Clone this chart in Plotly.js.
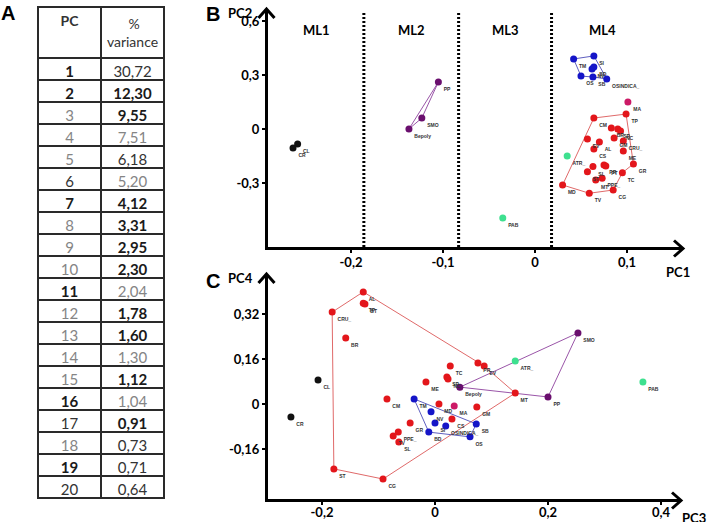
<!DOCTYPE html>
<html><head><meta charset="utf-8">
<script src="https://cdn.plot.ly/plotly-3.0.1.min.js"></script>
<style>body{margin:0;background:#fff}#chart{width:708px;height:522px}</style>
</head><body><div id="chart"></div>
<script>
// ---------- Panel A: % variance table ----------
const pcNumbers = [1,2,3,4,5,6,7,8,9,10,11,12,13,14,15,16,17,18,19,20];
const pcVariance = [30.72,12.30,9.55,7.51,6.18,5.20,4.12,3.31,2.95,2.30,2.04,1.78,1.60,1.30,1.12,1.04,0.91,0.73,0.71,0.64];
const pcStyle  = ['b','b','l','l','l','m','b','l','l','l','b','l','l','l','l','b','m','l','b','m'];
const varStyle = ['m','b','b','l','m','l','b','b','b','b','l','b','b','l','b','l','b','m','m','m'];
const tableHeader = ['PC', '%', 'variance'];

// ---------- Panel B: PC1 vs PC2 ----------
const bBlackNames = ['CL','CR'];
const bBlackPC1 = [-0.258,-0.263];
const bBlackPC2 = [-0.083,-0.106];
const bPurpleNames = ['PP','SMO','Bepoly'];
const bPurplePC1 = [-0.105,-0.123,-0.137];
const bPurplePC2 = [0.261,0.061,0.000];
const bGreenNames = ['PAB','ATR_'];
const bGreenPC1 = [-0.035,0.035];
const bGreenPC2 = [-0.494,-0.150];
const bBlueNames = ['TM','SI','NV','BD','OS','SB','OSINDICA_'];
const bBluePC1 = [0.042,0.064,0.062,0.064,0.050,0.063,0.078];
const bBluePC2 = [0.389,0.406,0.333,0.344,0.294,0.289,0.278];
const bMagentaNames = ['MA'];
const bMagentaPC1 = [0.101];
const bMagentaPC2 = [0.150];
const bRedNames = ['TP','CM','BR','SP','NC','GM','CRU_','EV','AL','CS','ME','GR','SL','PR','PT','ST','TC','MT','PPE_','MD','TV','CG'];
const bRedPC1 = [0.099,0.064,0.083,0.090,0.093,0.086,0.096,0.057,0.070,0.064,0.096,0.107,0.063,0.075,0.077,0.057,0.095,0.066,0.073,0.030,0.059,0.085];
const bRedPC2 = [0.083,0.061,0.006,0.000,-0.011,-0.050,-0.067,-0.056,-0.072,-0.111,-0.122,-0.194,-0.209,-0.200,-0.206,-0.237,-0.243,-0.283,-0.274,-0.311,-0.357,-0.339];
const bRedHull = ['CM','TP','GR','TC','CG','TV','MD','CM'];
const bBlueHull = ['TM','SI','OSINDICA_','SB','OS','TM'];
const bPurpleHull = ['PP','SMO','Bepoly','PP'];
const mlBounds = [-0.186,-0.083,0.018];
const mlNames = ['ML1','ML2','ML3','ML4'];
const mlCenters = [-0.237,-0.134,-0.032,0.073];
const bXTicks = [-0.2,-0.1,0,0.1];
const bXTickText = ['-0,2','-0,1','0','0,1'];
const bYTicks = [0.6,0.3,0,-0.3];
const bYTickText = ['0,6','0,3','0','-0,3'];

// ---------- Panel C: PC3 vs PC4 ----------
const cBlackNames = ['CL','CR'];
const cBlackPC3 = [-0.207,-0.255];
const cBlackPC4 = [0.085,-0.046];
const cPurpleNames = ['Bepoly','SMO','PP'];
const cPurplePC3 = [0.044,0.253,0.200];
const cPurplePC4 = [0.060,0.253,0.025];
const cGreenNames = ['ATR_','PAB'];
const cGreenPC3 = [0.142,0.368];
const cGreenPC4 = [0.153,0.078];
const cBlueNames = ['TM','NV','SI','OSINDICA_','BD','SB','OS'];
const cBluePC3 = [-0.037,-0.007,0.000,0.019,-0.011,0.073,0.062];
const cBluePC4 = [0.018,-0.028,-0.068,-0.078,-0.100,-0.071,-0.117];
const cMagentaNames = ['MA'];
const cMagentaPC3 = [0.034];
const cMagentaPC4 = [-0.007];
const cRedNames = ['AL','TP','BT','CRU_','BR','TC','SP','NC','ME','CM','MD','CS','GR','PPE_','TV','SL','ST','CG','PR','EV','MT','GM'];
const cRedPC3 = [-0.127,-0.127,-0.124,-0.182,-0.158,0.027,0.021,0.023,-0.016,-0.085,0.007,0.030,-0.044,-0.065,-0.074,-0.064,-0.179,-0.092,0.076,0.087,0.142,0.074];
const cRedPC4 = [0.399,0.359,0.356,0.327,0.235,0.135,0.096,0.089,0.078,0.018,0.000,-0.053,-0.068,-0.100,-0.114,-0.135,-0.231,-0.267,0.146,0.135,0.039,-0.011];
const cRedHull = ['AL','EV','MT','CG','ST','CRU_','AL'];
const cBlueHull = ['TM','SB','OS','BD','TM'];
const cPurpleHull = ['Bepoly','SMO','PP','Bepoly'];
const cXTicks = [-0.2,0,0.2,0.4];
const cXTickText = ['-0,2','0','0,2','0,4'];
const cYTicks = [0.32,0.16,0,-0.16];
const cYTickText = ['0,32','0,16','0','-0,16'];

// ---------- drawing ----------
const W = 708, H = 522;
const px = v => v / W, py = v => 1 - v / H;
const FONT = 'Lato, "Liberation Sans", sans-serif';
const COL = {red:'#e3161b', redLine:'#e06a6a', blue:'#1515c8', blueLine:'#5f5fc0',
  purple:'#6a0f6e', purpleLine:'#9a55a8', magenta:'#cc1a66', green:'#3ee08f', black:'#111111'};

const styleColor = {b:'#1a1a1a', m:'#333333', l:'#858585'};
const styleWeight = {b:'bold', m:'normal', l:'normal'};
const fmt = v => v.toFixed(2).replace('.', ',');

const traces = [];
traces.push({
  type:'table',
  domain:{x:[px(38), px(164)], y:[0, py(7)]},
  columnwidth:[63,63],
  header:{values:[tableHeader[0], '&nbsp;&nbsp;&nbsp;&nbsp;&nbsp;&nbsp;' + tableHeader[1] + '<br>' + tableHeader[2]],
    height:45, align:'center',
    line:{color:'#2a2a2a', width:1.6}, fill:{color:'#ffffff'},
    font:{family:FONT, size:14, color:'#333', weight:['bold','normal']}},
  cells:{values:[pcNumbers.map(String), pcVariance.map(fmt)],
    height:22, align:'center',
    line:{color:'#2a2a2a', width:1.6}, fill:{color:'#ffffff'},
    font:{family:FONT, size:15,
      color:[pcStyle.map(s=>styleColor[s]), varStyle.map(s=>styleColor[s])],
      weight:[pcStyle.map(s=>styleWeight[s]), varStyle.map(s=>styleWeight[s])]}}
});

function hull(names, xs, ys, order, color, xa, ya) {
  const idx = order.map(n => names.indexOf(n));
  return {type:'scatter', mode:'lines', x:idx.map(i=>xs[i]), y:idx.map(i=>ys[i]),
    line:{color:color, width:1}, xaxis:xa, yaxis:ya, hoverinfo:'skip', showlegend:false};
}
function pts(names, xs, ys, color, xa, ya) {
  return {type:'scatter', mode:'markers+text', x:xs, y:ys, text:names,
    textposition:'bottom right', textfont:{family:'"Liberation Sans", sans-serif', size:5, color:'#333', weight:'bold'},
    marker:{color:color, size:7}, xaxis:xa, yaxis:ya, showlegend:false, cliponaxis:false};
}

// Panel B
traces.push(hull(bRedNames,bRedPC1,bRedPC2,bRedHull,COL.redLine,'x','y'));
traces.push(hull(bBlueNames,bBluePC1,bBluePC2,bBlueHull,COL.blueLine,'x','y'));
traces.push(hull(bPurpleNames,bPurplePC1,bPurplePC2,bPurpleHull,COL.purpleLine,'x','y'));
traces.push(pts(bBlackNames,bBlackPC1,bBlackPC2,COL.black,'x','y'));
traces.push(pts(bPurpleNames,bPurplePC1,bPurplePC2,COL.purple,'x','y'));
traces.push(pts(bGreenNames,bGreenPC1,bGreenPC2,COL.green,'x','y'));
traces.push(pts(bBlueNames,bBluePC1,bBluePC2,COL.blue,'x','y'));
traces.push(pts(bMagentaNames,bMagentaPC1,bMagentaPC2,COL.magenta,'x','y'));
traces.push(pts(bRedNames,bRedPC1,bRedPC2,COL.red,'x','y'));

// Panel C
traces.push(hull(cRedNames,cRedPC3,cRedPC4,cRedHull,COL.redLine,'x2','y2'));
traces.push(hull(cBlueNames,cBluePC3,cBluePC4,cBlueHull,COL.blueLine,'x2','y2'));
traces.push(hull(cPurpleNames,cPurplePC3,cPurplePC4,cPurpleHull,COL.purpleLine,'x2','y2'));
traces.push(pts(cBlackNames,cBlackPC3,cBlackPC4,COL.black,'x2','y2'));
traces.push(pts(cPurpleNames,cPurplePC3,cPurplePC4,COL.purple,'x2','y2'));
traces.push(pts(cGreenNames,cGreenPC3,cGreenPC4,COL.green,'x2','y2'));
traces.push(pts(cBlueNames,cBluePC3,cBluePC4,COL.blue,'x2','y2'));
traces.push(pts(cMagentaNames,cMagentaPC3,cMagentaPC4,COL.magenta,'x2','y2'));
traces.push(pts(cRedNames,cRedPC3,cRedPC4,COL.red,'x2','y2'));

const tickFont = {family:FONT, size:13, color:'#000', weight:'bold'};
function axis(domain, range, tv, tt, anchor, standoff) {
  return {domain:domain, range:range, tickvals:tv, ticktext:tt, anchor:anchor,
    showline:true, linewidth:3, linecolor:'#000', showgrid:false, zeroline:false,
    ticks:'outside', ticklen:3, tickwidth:1.5, tickcolor:'#000', tickfont:tickFont,
    ticklabelstandoff:standoff, fixedrange:true};
}

const layout = {
  width:W, height:H, margin:{l:0,r:0,t:0,b:0}, paper_bgcolor:'#fff', plot_bgcolor:'rgba(0,0,0,0)',
  showlegend:false, font:{family:FONT},
  xaxis: axis([px(268), px(682)], [-0.2902, 0.1598], bXTicks, bXTickText, 'y', -2),
  yaxis: axis([py(247), py(10)], [-0.6556, 0.6611], bYTicks, bYTickText, 'x', 0),
  xaxis2: axis([px(268), px(680)], [-0.29558, 0.43363], cXTicks, cXTickText, 'y2', -4),
  yaxis2: axis([py(499), py(275)], [-0.3381, 0.4591], cYTicks, cYTickText, 'x2', 0),
  shapes: [],
  annotations: []
};
mlBounds.forEach(b => layout.shapes.push({type:'line', xref:'x', yref:'paper', x0:b, x1:b,
  y0:py(247), y1:py(12), line:{color:'#000', width:3, dash:'2px,2px'}}));
function arrow(xa, ya, dir) {
  const path = dir === 'right' ? 'M -9 8 L 0 0 L -9 -8' : 'M -8 -9 L 0 0 L 8 -9';
  return {type:'path', xref:'paper', yref:'paper', xsizemode:'pixel', ysizemode:'pixel',
    xanchor:xa, yanchor:ya, path:path, line:{color:'#000', width:3}};
}
layout.shapes.push(arrow(px(683), py(248.5), 'right'));
layout.shapes.push(arrow(px(266.5), py(9), 'up'));
layout.shapes.push(arrow(px(681), py(500.5), 'right'));
layout.shapes.push(arrow(px(266.5), py(274), 'up'));

function ann(text, x, y, size, extra) {
  return Object.assign({text:text, xref:'paper', yref:'paper', x:px(x), y:py(y), showarrow:false,
    font:{family:FONT, size:size, color:'#000', weight:'bold'}, xanchor:'center', yanchor:'middle'}, extra||{});
}
const letterFont = {family:'"Liberation Sans", sans-serif', size:20, weight:'bold', color:'#000'};
layout.annotations.push(ann('A', 8, 13, 20, {font:letterFont}));
layout.annotations.push(ann('B', 213, 14, 20, {font:letterFont}));
layout.annotations.push(ann('C', 213, 281, 20, {font:letterFont}));
layout.annotations.push(ann('PC2', 240, 13, 13));
layout.annotations.push(ann('PC1', 678, 272, 13));
layout.annotations.push(ann('PC4', 240, 278, 13));
layout.annotations.push(ann('PC3', 694, 518, 13));
mlNames.forEach((n,i) => layout.annotations.push(Object.assign(ann(n, 0, 30, 13), {xref:'x', x:mlCenters[i]})));

Plotly.newPlot('chart', traces, layout, {displayModeBar:false, staticPlot:true});
</script></body></html>
